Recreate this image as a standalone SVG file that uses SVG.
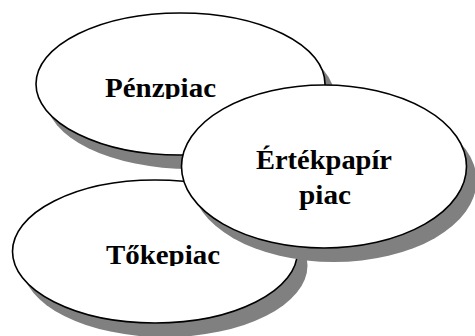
<svg xmlns="http://www.w3.org/2000/svg" width="475" height="336" viewBox="0 0 475 336">
  <style>
    .shadow { fill: #808080; stroke: none; }
    .shape { fill: #ffffff; stroke: #000000; stroke-width: 1.6; }
    .label { font-family: "Liberation Serif", "Times New Roman", serif; font-weight: bold; font-size: 27px; fill: #000000; text-anchor: middle; }
  </style>
  <defs>
    <clipPath id="clip-penz"><rect x="90" y="60" width="150" height="39"/></clipPath>
    <clipPath id="clip-toke"><rect x="90" y="225" width="150" height="41"/></clipPath>
  </defs>
  <rect width="475" height="336" fill="#ffffff"/>

  <g id="penzpiac">
    <ellipse class="shadow" cx="190.5" cy="98" rx="144.5" ry="71"/>
    <ellipse class="shape" cx="180.5" cy="84" rx="144.5" ry="71"/>
    <text class="label" x="160.5" y="97" textLength="111" lengthAdjust="spacingAndGlyphs" clip-path="url(#clip-penz)">Pénzpiac</text>
  </g>

  <g id="tokepiac">
    <ellipse class="shadow" cx="165" cy="265.5" rx="142.5" ry="71.5"/>
    <ellipse class="shape" cx="155" cy="251.5" rx="142.5" ry="71.5"/>
    <text class="label" x="163" y="264" textLength="114" lengthAdjust="spacingAndGlyphs" clip-path="url(#clip-toke)">Tőkepiac</text>
  </g>

  <g id="ertekpapir-piac">
    <ellipse class="shadow" cx="334" cy="180.5" rx="142.5" ry="81.5"/>
    <ellipse class="shape" cx="324" cy="166.5" rx="142.5" ry="81.5"/>
    <text class="label" x="324" y="169" textLength="136" lengthAdjust="spacingAndGlyphs">Értékpapír</text>
    <text class="label" x="325" y="204" textLength="52" lengthAdjust="spacingAndGlyphs">piac</text>
  </g>

  <g id="connectors"></g>
</svg>
